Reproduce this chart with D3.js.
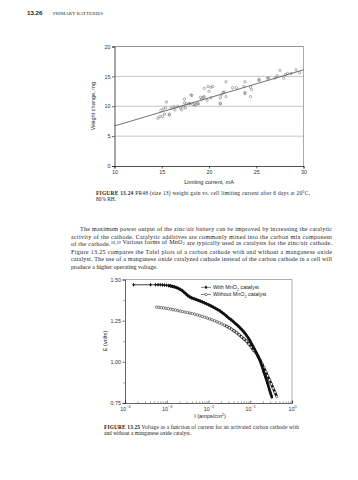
<!DOCTYPE html>
<html><head><meta charset="utf-8">
<script src="https://cdn.jsdelivr.net/npm/d3@7"></script>
<style>
html,body{margin:0;padding:0;background:#fff;}
svg{display:block;}
.ax text{font-family:"Liberation Sans",Arial,sans-serif;font-size:5.4px;fill:#333;}
</style></head>
<body>
<script>
// ---- Figure 13.24 data ----
const currentTicks = [10, 15, 20, 25, 30];
const weightTicks = [0, 5, 10, 15, 20];
const scatterCurrent = [14.6,14.8,15.1,15.3,14.9,15.15,15.4,15.5,15.8,15.8,16.0,16.3,16.4,16.7,17.0,17.1,17.3,17.4,17.4,17.6,17.5,17.9,18.0,18.2,18.3,18.6,18.8,19.1,19.2,19.4,19.5,19.5,19.9,20.2,20.0,20.2,21.2,21.3,21.5,21.6,21.8,21.2,21.2,21.8,22.5,22.9,23.7,23.8,23.8,24.4,24.5,24.4,25.3,25.3,26.2,26.3,27.0,27.2,27.5,27.9,28.1,28.3,28.7,29.2,29.6,20.4,23.8,18.1,18.5,18.9,19.8];
const scatterWeight = [8.0,8.3,8.3,8.7,9.3,9.5,9.7,10.7,8.7,8.5,9.7,9.9,9.4,10.0,9.7,9.4,10.0,11.2,10.6,10.4,9.7,10.5,10.4,11.8,10.3,10.3,10.5,11.5,11.2,11.5,11.6,13.0,13.3,13.2,12.5,11.4,11.4,11.9,12.3,12.4,11.6,10.5,10.4,14.1,13.1,13.1,13.3,14.1,12.1,13.2,12.8,11.6,14.5,14.3,14.7,14.7,14.7,15.1,16.0,14.7,15.3,15.5,15.5,16.1,15.6,13.3,12.3,11.9,10.2,10.4,11.0];
const fitCurrent = [10, 30];
const fitWeight = [6.7, 16.1];

// ---- Figure 13.25 data ----
const currentDecades = [1e-4, 1e-3, 1e-2, 1e-1, 1];
const decadeExp = ["−4", "−3", "−2", "−1", "0"];
const voltTicks = [0.75, 1.00, 1.25, 1.50];
const withI = [1.6e-4,4.1e-4,5.4e-4,6.2e-4,7.0e-4,7.9e-4,8.8e-4,9.9e-4,1.1e-3,1.23e-3,1.37e-3,1.53e-3,1.7e-3,1.9e-3,2.1e-3,2.35e-3,2.6e-3,2.9e-3,3.2e-3,3.6e-3,4.0e-3,4.5e-3,5.0e-3,5.6e-3,6.3e-3,7.1e-3,8.0e-3,9.0e-3,0.0102,0.0115,0.013,0.0147,0.0166,0.0188,0.0212,0.024,0.027,0.0305,0.0345,0.039,0.044,0.05,0.056,0.063,0.071,0.08,0.09,0.1,0.112,0.125,0.14,0.155,0.17,0.19,0.21,0.235,0.26,0.285,0.31,0.33];
const withE = [1.468,1.468,1.468,1.468,1.468,1.467,1.466,1.465,1.463,1.461,1.458,1.455,1.451,1.446,1.440,1.432,1.422,1.412,1.402,1.394,1.388,1.383,1.379,1.374,1.369,1.364,1.358,1.352,1.346,1.339,1.332,1.325,1.317,1.309,1.299,1.289,1.278,1.266,1.256,1.245,1.233,1.221,1.209,1.195,1.18,1.163,1.145,1.125,1.102,1.08,1.055,1.03,1.01,0.975,0.94,0.905,0.87,0.835,0.805,0.785];
const withoutI = [5.7e-4,6.5e-4,7.4e-4,8.4e-4,9.6e-4,1.1e-3,1.25e-3,1.42e-3,1.62e-3,1.85e-3,2.1e-3,2.4e-3,2.75e-3,3.15e-3,3.6e-3,4.1e-3,4.7e-3,5.4e-3,6.2e-3,7.1e-3,8.1e-3,9.3e-3,0.0107,0.0122,0.014,0.016,0.0183,0.021,0.024,0.0275,0.0315,0.036,0.041,0.047,0.054,0.062,0.071,0.081,0.093,0.106,0.12,0.135,0.152,0.17,0.19,0.21,0.235,0.26,0.29,0.32,0.355,0.39,0.43];
const withoutE = [1.332,1.331,1.329,1.327,1.325,1.323,1.320,1.317,1.314,1.311,1.308,1.305,1.302,1.299,1.296,1.293,1.289,1.285,1.280,1.276,1.271,1.266,1.260,1.255,1.249,1.243,1.237,1.230,1.223,1.215,1.207,1.198,1.188,1.177,1.165,1.151,1.139,1.125,1.108,1.09,1.07,1.058,1.037,1.014,0.99,0.965,0.94,0.915,0.89,0.865,0.84,0.815,0.79];

// ---- page text ----
const paraLines = [
 "The maximum power output of the zinc/air battery can be improved by increasing the catalytic",
 "activity of the cathode. Catalytic additives are commonly mixed into the carbon mix component",
 "of the cathode.|38,39| Various forms of MnO_2_ are typically used as catalysts for the zinc/air cathode.",
 "Figure 13.25 compares the Tafel plots of a carbon cathode with and without a manganese oxide",
 "catalyst. The use of a manganese oxide catalyzed cathode instead of the carbon cathode in a cell will",
 "produce a higher operating voltage."
];

const W = 358, H = 480;
const svg = d3.select("body").append("svg").attr("width", W).attr("height", H);
const serif = '"Liberation Serif","Times New Roman",serif';
const sans = '"Liberation Sans",Arial,sans-serif';

// header
svg.append("text").attr("x", 27).attr("y", 15).attr("font-family", sans).attr("font-weight", "bold")
  .attr("font-size", 6.2).attr("fill", "#222").text("13.26");
svg.append("text").attr("x", 53).attr("y", 15).attr("font-family", serif).attr("font-size", 5)
  .attr("fill", "#333").attr("textLength", 50).attr("lengthAdjust", "spacingAndGlyphs").text("PRIMARY BATTERIES");

// ===== Chart 1 =====
const x1 = d3.scaleLinear().domain([10, 30]).range([114.5, 303.5]);
const y1 = d3.scaleLinear().domain([0, 20]).range([166, 46.5]);
const g1 = svg.append("g");
g1.selectAll("line.grid").data(weightTicks.filter(d => d > 0)).join("line")
  .attr("x1", x1(10)).attr("x2", x1(30)).attr("y1", d => y1(d)).attr("y2", d => y1(d))
  .attr("stroke", d => d === 20 ? "#666" : "#aaa").attr("stroke-width", 0.7);
g1.append("line").attr("x1", x1(30)).attr("x2", x1(30)).attr("y1", y1(20)).attr("y2", y1(0))
  .attr("stroke", "#888").attr("stroke-width", 0.7);
const ax1 = g1.append("g").attr("class", "ax").attr("transform", `translate(${x1(10)},0)`)
  .call(d3.axisLeft(y1).tickValues(weightTicks).tickSize(2.5).tickPadding(1.5).tickFormat(d3.format("d")));
const bx1 = g1.append("g").attr("class", "ax").attr("transform", `translate(0,${y1(0)})`)
  .call(d3.axisBottom(x1).tickValues(currentTicks).tickSize(2.5).tickPadding(1.5).tickFormat(d3.format("d")));
[ax1, bx1].forEach(a => { a.select(".domain").attr("stroke", "#222").attr("stroke-width", 0.8); a.selectAll(".tick line").attr("stroke", "#222").attr("stroke-width", 0.7); });
g1.append("text").attr("x", 209).attr("y", 183.5).attr("text-anchor", "middle").attr("font-family", sans)
  .attr("font-size", 5.6).attr("fill", "#222").text("Limiting current, mA");
g1.append("text").attr("transform", "translate(95,106) rotate(-90)").attr("text-anchor", "middle")
  .attr("font-family", sans).attr("font-size", 5.6).attr("fill", "#222").text("Weight change, mg");
g1.append("line").attr("x1", x1(fitCurrent[0])).attr("y1", y1(fitWeight[0]))
  .attr("x2", x1(fitCurrent[1])).attr("y2", y1(fitWeight[1])).attr("stroke", "#333").attr("stroke-width", 0.7);
g1.selectAll("circle.pt").data(scatterCurrent.map((c, i) => [c, scatterWeight[i]])).join("circle")
  .attr("cx", d => x1(d[0])).attr("cy", d => y1(d[1])).attr("r", 1.2)
  .attr("fill", "none").attr("stroke", "#555").attr("stroke-width", 0.45);

function richText(sel, str) {
  const parts = str.split(/(\|[^|]*\||_[^_]*_)/);
  parts.forEach(p => {
    if (!p) return;
    if (p[0] === "|") sel.append("tspan").attr("font-size", "65%").attr("dy", -1.8).text(p.slice(1, -1))
      .call(() => sel.append("tspan").attr("dy", 1.8).text(""));
    else if (p[0] === "_") sel.append("tspan").attr("font-size", "65%").attr("dy", 0.9).text(p.slice(1, -1))
      .call(() => sel.append("tspan").attr("dy", -0.9).text(""));
    else sel.append("tspan").text(p);
  });
}
function caption(x, y, bold, rest, width, fs) {
  const t = svg.append("text").attr("x", x).attr("y", y).attr("font-family", serif).attr("font-size", fs).attr("fill", "#222");
  if (width) t.attr("textLength", width).attr("lengthAdjust", "spacing");
  if (bold) t.append("tspan").attr("font-weight", "bold").text(bold);
  t.append("tspan").text(rest);
}
caption(96, 194.5, "FIGURE 13.24", "   PR48 (size 13) weight gain vs. cell limiting current after 6 days at 20°C,", 214, 5.4);
caption(96, 200.5, null, "80% RH.", null, 5.4);

paraLines.forEach((ln, i) => {
  const x = i === 0 ? 80 : 71;
  const t = svg.append("text").attr("x", x).attr("y", 231 + i * 7.6).attr("font-family", serif)
    .attr("font-size", 6.1).attr("fill", "#222");
  if (i < paraLines.length - 1) t.attr("textLength", 332 - x).attr("lengthAdjust", "spacing");
  richText(t, ln);
});

// ===== Chart 2 =====
const x2 = d3.scaleLog().domain([1e-4, 1]).range([125, 292]);
const y2 = d3.scaleLinear().domain([0.75, 1.5]).range([403, 279.5]);
const g2 = svg.append("g");
g2.append("line").attr("x1", x2(1e-4)).attr("x2", x2(1)).attr("y1", y2(1.5)).attr("y2", y2(1.5)).attr("stroke", "#777").attr("stroke-width", 0.6);
g2.append("line").attr("x1", x2(1)).attr("x2", x2(1)).attr("y1", y2(1.5)).attr("y2", y2(0.75)).attr("stroke", "#777").attr("stroke-width", 0.6);
const minorV = [0.875, 1.125, 1.375];
const ay2 = g2.append("g").attr("class", "ax").attr("transform", `translate(${x2(1e-4)},0)`)
  .call(d3.axisLeft(y2).tickValues(voltTicks).tickSize(2.5).tickPadding(1.5).tickFormat(d3.format(".2f")));
g2.append("g").attr("transform", `translate(${x2(1e-4)},0)`)
  .call(d3.axisLeft(y2).tickValues(minorV).tickSize(1.8).tickFormat(""))
  .call(a => a.select(".domain").remove()).selectAll("line").attr("stroke", "#444").attr("stroke-width", 0.5);
const allMinor = [];
currentDecades.slice(0, 4).forEach(d => { for (let k = 2; k <= 9; k++) allMinor.push(d * k); });
const bx2 = g2.append("g").attr("class", "ax").attr("transform", `translate(0,${y2(0.75)})`)
  .call(d3.axisBottom(x2).tickValues(currentDecades).tickSize(-2.5).tickPadding(3).tickFormat(""));
g2.append("g").attr("transform", `translate(0,${y2(0.75)})`)
  .call(d3.axisBottom(x2).tickValues(allMinor).tickSize(-1.6).tickFormat(""))
  .call(a => a.select(".domain").remove()).selectAll("line").attr("stroke", "#444").attr("stroke-width", 0.5);
[ay2, bx2].forEach(a => { a.select(".domain").attr("stroke", "#222").attr("stroke-width", 0.7); a.selectAll(".tick line").attr("stroke", "#222").attr("stroke-width", 0.6); });
bx2.selectAll(".tick").each(function(d, i) {
  const t = d3.select(this).append("text").attr("y", 7.5).attr("text-anchor", "middle").attr("fill", "#333")
    .attr("font-family", sans).attr("font-size", 5.4);
  t.append("tspan").text("10");
  t.append("tspan").attr("font-size", 3.8).attr("dy", -2.2).text(decadeExp[i]);
});
const xt = g2.append("text").attr("x", 210).attr("y", 418).attr("text-anchor", "middle").attr("font-family", sans)
  .attr("font-size", 5.6).attr("fill", "#222");
xt.append("tspan").text("I (amps/cm");
xt.append("tspan").attr("font-size", 3.9).attr("dy", -2.2).text("2");
xt.append("tspan").attr("dy", 2.2).text(")");
g2.append("text").attr("transform", "translate(107,341) rotate(-90)").attr("text-anchor", "middle")
  .attr("font-family", sans).attr("font-size", 5.6).attr("fill", "#222").text("E (volts)");

const withPts = withI.map((v, i) => [v, withE[i]]);
const withoutPts = withoutI.map((v, i) => [v, withoutE[i]]);
const lineV = d3.line().x(d => x2(d[0])).y(d => y2(d[1]));
g2.append("path").attr("d", lineV(withoutPts)).attr("fill", "none").attr("stroke", "#222").attr("stroke-width", 0.8);
g2.append("path").attr("d", lineV(withoutPts.filter(d => d[0] >= 0.024))).attr("fill", "none").attr("stroke", "#111").attr("stroke-width", 2.6);
g2.selectAll("circle.wo").data(withoutPts).join("circle").attr("cx", d => x2(d[0])).attr("cy", d => y2(d[1]))
  .attr("r", 1.25).attr("fill", "#fff").attr("stroke", "#222").attr("stroke-width", 0.55);
g2.append("path").attr("d", lineV(withPts)).attr("fill", "none").attr("stroke", "#111").attr("stroke-width", 0.8);
g2.append("path").attr("d", lineV(withPts.filter(d => d[0] >= 1.1e-3))).attr("fill", "none").attr("stroke", "#111").attr("stroke-width", 2.7);
const diamond = d3.symbol().type(d3.symbolDiamond).size(5);
g2.selectAll("path.wm").data(withPts).join("path").attr("d", diamond)
  .attr("transform", d => `translate(${x2(d[0])},${y2(d[1])})`).attr("fill", "#111");

const lg = g2.append("g");
[["With MnO", " catalyst", "d"], ["Without MnO", " catalyst", "o"]].forEach((r, i) => {
  const yy = 287.3 + i * 7.2;
  lg.append("line").attr("x1", 201).attr("x2", 211).attr("y1", yy).attr("y2", yy).attr("stroke", "#222").attr("stroke-width", 0.6);
  if (r[2] === "d") lg.append("path").attr("d", diamond).attr("transform", `translate(206,${yy})`).attr("fill", "#111");
  else lg.append("circle").attr("cx", 206).attr("cy", yy).attr("r", 1.2).attr("fill", "#fff").attr("stroke", "#222").attr("stroke-width", 0.5);
  const t = lg.append("text").attr("x", 213).attr("y", yy + 1.9).attr("font-family", sans).attr("font-size", 5.4).attr("fill", "#222");
  t.append("tspan").text(r[0]);
  t.append("tspan").attr("font-size", 3.8).attr("dy", 1.3).text("2");
  t.append("tspan").attr("dy", -1.3).text(r[1]);
});

caption(104, 428.5, "FIGURE 13.25", "   Voltage as a function of current for an activated carbon cathode with", 195, 5.4);
caption(104, 435, null, "and without a manganese oxide catalyst.", null, 5.4);
</script>
</body></html>
